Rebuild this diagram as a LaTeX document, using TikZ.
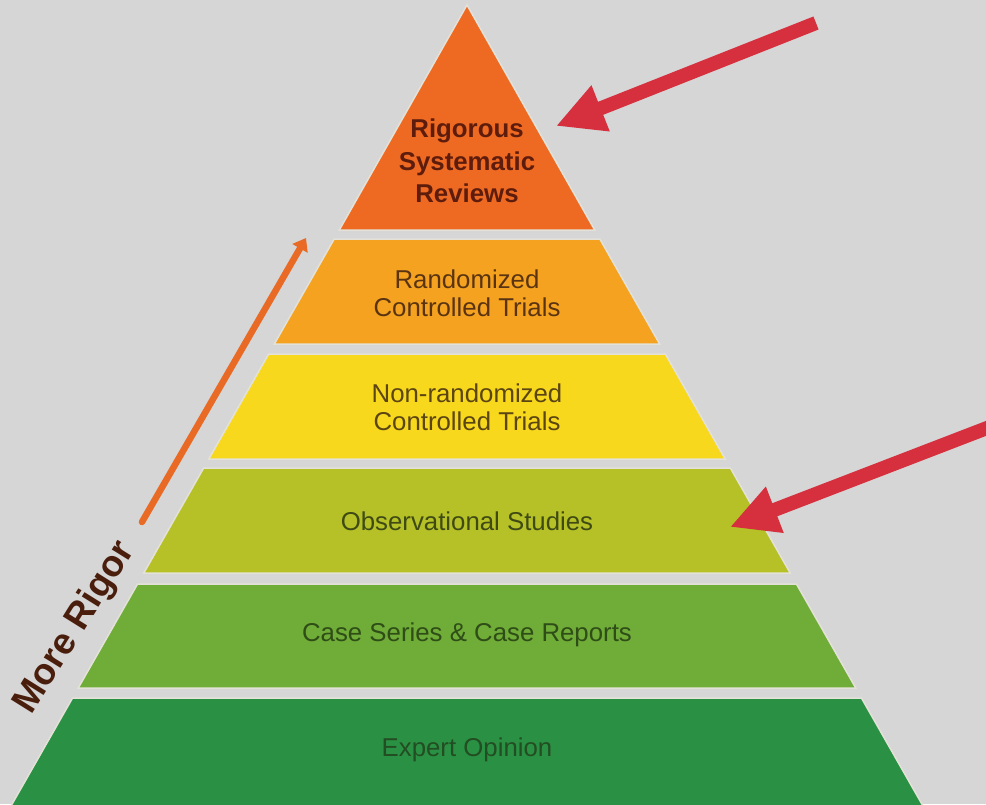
\documentclass[tikz,border=0pt]{standalone}
\usepackage{fontspec}
\setmainfont{Liberation Sans}
\usetikzlibrary{arrows.meta}
\definecolor{bg}{HTML}{D6D6D6}
\definecolor{cA}{HTML}{EE6A22}
\definecolor{cB}{HTML}{F4A21F}
\definecolor{cC}{HTML}{F8D81C}
\definecolor{cD}{HTML}{B5C126}
\definecolor{cE}{HTML}{6FAC38}
\definecolor{cF}{HTML}{2A9144}
\definecolor{tA}{HTML}{5E1C0C}
\definecolor{tB}{HTML}{5A3412}
\definecolor{tC}{HTML}{5B4512}
\definecolor{tD}{HTML}{3F4A14}
\definecolor{tE}{HTML}{2F4D16}
\definecolor{tF}{HTML}{234D22}
\definecolor{rigor}{HTML}{4A1E0C}
\definecolor{redarr}{HTML}{D62F3E}
\definecolor{orarr}{HTML}{E86A25}
\definecolor{halo}{HTML}{E4E2D8}
\newcommand\pyrlayer[3]{%
  \pgfmathsetmacro\hwa{0.57*(#1-6)}%
  \pgfmathsetmacro\hwb{0.57*(#2-6)}%
  \filldraw[fill=#3,draw=halo,line width=1.5pt,line join=miter]
    ({467-\hwa},#1) -- ({467+\hwa},#1) -- ({467+\hwb},#2) -- ({467-\hwb},#2) -- cycle;}
\tikzset{
  lbl/.style={align=center,font=\fontsize{25.8pt}{28pt}\selectfont},
  redarrow/.style={draw=redarr,line width=14pt,-{Triangle[length=48pt,width=46pt]}},
  rigorarrow/.style={draw=orarr,line width=6.5pt,line cap=round,-{Triangle[length=12pt,width=17pt]}}
}
\begin{document}
\begin{tikzpicture}[x=1pt,y=-1pt]
\fill[bg] (0,0) rectangle (986,804);
\useasboundingbox (0,0) rectangle (986,804);
% pyramid layers
\filldraw[fill=cA,draw=halo,line width=1.5pt] (467,5) -- (594.7,230) -- (339.3,230) -- cycle;
\pyrlayer{239}{344}{cB}
\pyrlayer{354}{459}{cC}
\pyrlayer{468}{573}{cD}
\pyrlayer{584}{688}{cE}
\pyrlayer{698}{806}{cF}
% labels
\node[lbl,font=\fontsize{25.8pt}{32.5pt}\selectfont\bfseries,text=tA] (rsr) at (467,161) {Rigorous\\Systematic\\Reviews};
\node[lbl,text=tB] (rct) at (467,293) {Randomized\\Controlled Trials};
\node[lbl,text=tC] (nrct) at (467,407) {Non-randomized\\Controlled Trials};
\node[lbl,text=tD] (obs) at (467,521) {Observational Studies};
\node[lbl,text=tE] (csr) at (467,635) {Case Series \& Case Reports};
\node[lbl,text=tF] (exp) at (467,750) {Expert Opinion};
% more rigor
\node[font=\fontsize{37pt}{40pt}\selectfont\bfseries,text=rigor,rotate=58] (more) at (75,628) {More Rigor};
\coordinate (ortail) at (142,522);
\coordinate (orhead) at (306,238);
\draw[rigorarrow] (ortail) -- (orhead);
% red arrows
\coordinate (r1tail) at (816,23);
\coordinate (r1tip) at (556,126);
\draw[redarrow] (r1tail) -- (r1tip);
\coordinate (r2tail) at (1000,423);
\coordinate (r2tip) at (730,527);
\draw[redarrow] (r2tail) -- (r2tip);
\end{tikzpicture}
\end{document}
